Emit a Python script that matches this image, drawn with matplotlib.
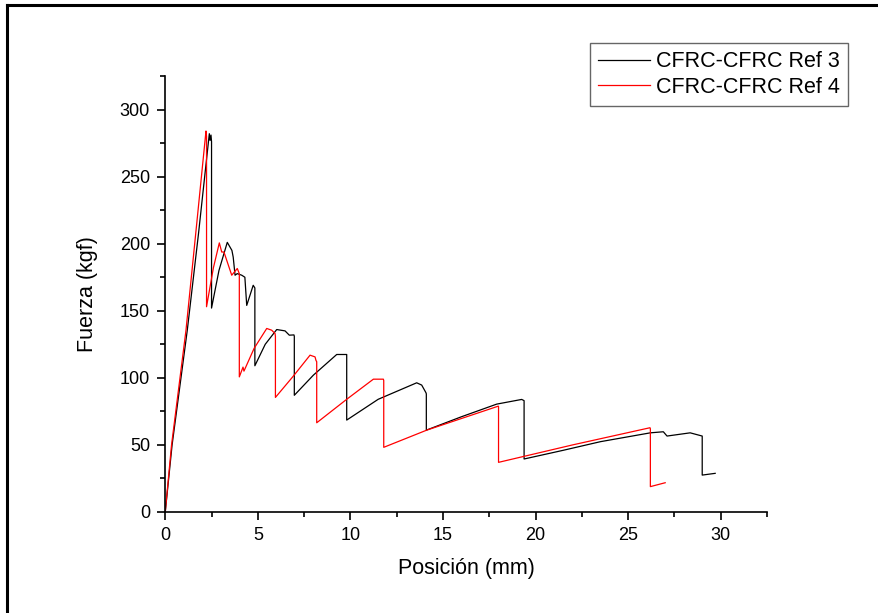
import matplotlib
matplotlib.use("Agg")
import matplotlib.pyplot as plt
from matplotlib.lines import Line2D

plt.rcParams['font.family'] = ['Liberation Sans', 'DejaVu Sans']

# Force-displacement curves (position in mm, force in kgf)
ref3_pos = [0.0, 0.37, 1.19, 1.8, 2.38, 2.42, 2.47, 2.5, 2.5, 2.9, 3.35, 3.6, 3.67, 3.77,
            3.89, 4.13, 4.3, 4.4, 4.75, 4.84, 4.84, 5.4, 6.02, 6.47, 6.7, 6.95, 6.97, 6.97,
            8.0, 9.26, 9.8, 9.8, 11.5, 13.58, 13.85, 14.08, 14.1, 14.1, 16.0, 17.9, 19.25,
            19.38, 19.38, 21.5, 23.5, 26.2, 26.9, 27.1, 28.35, 29.0, 29.0, 29.7]
ref3_force = [0, 50, 135.5, 208, 282, 277, 281, 276, 152, 180, 201, 195, 190, 176.5,
              177.7, 176.5, 175, 154, 169, 167, 109, 125, 136, 135, 131.8, 132, 131, 87,
              102, 117.4, 117.4, 68.5, 84, 96.3, 94.6, 88.9, 88, 61, 71, 80.4, 83.9,
              83, 39.5, 46, 52.4, 59, 59.8, 56.6, 59, 56.6, 27.5, 28.8]

ref4_pos = [0.0, 0.34, 1.12, 1.7, 2.2, 2.23, 2.23, 2.6, 2.92, 3.05, 3.17, 3.59, 3.89,
            4.0, 4.0, 4.2, 4.25, 4.8, 5.48, 5.75, 5.93, 5.95, 5.95, 6.9, 7.82, 8.09, 8.14,
            8.18, 8.18, 9.8, 11.24, 11.78, 11.8, 11.8, 14.12, 17.99, 18.0, 18.0, 22.0,
            26.18, 26.2, 26.2, 27.0]
ref4_force = [0, 50, 135.5, 215, 284, 280, 153, 182, 200.6, 193.8, 193.8, 176.5, 181.5,
              177.7, 100.7, 108, 105, 122, 136.8, 135.5, 133, 131, 85.4, 101, 116.9,
              115.6, 113, 112, 66.5, 84, 99, 99, 98, 48.2, 61, 78.9, 78.5, 37, 50,
              62.8, 62, 18.9, 21.8]

series_labels = ["CFRC-CFRC Ref 3", "CFRC-CFRC Ref 4"]
series_colors = ["black", "red"]

x_ticks = [0, 5, 10, 15, 20, 25, 30]
y_ticks = [0, 50, 100, 150, 200, 250, 300]

fig = plt.figure(figsize=(8.79, 6.13), dpi=100)
ax = fig.add_axes([0.188, 0.1648, 0.6846, 0.7112])

ax.plot(ref3_pos, ref3_force, color=series_colors[0], lw=0.9, label=series_labels[0])
ax.plot(ref4_pos, ref4_force, color=series_colors[1], lw=0.9, label=series_labels[1])

ax.set_xlim(0, 32.5)
ax.set_ylim(0, 325)
ax.set_xticks(x_ticks)
ax.set_yticks(y_ticks)
ax.set_xticks([2.5 + 5 * i for i in range(7)], minor=True)
ax.set_yticks([25 + 50 * i for i in range(7)], minor=True)
ax.tick_params(which='major', direction='out', length=6, width=1.2, labelsize=13, pad=5)
ax.tick_params(which='minor', direction='out', length=3.5, width=1.2)

for side in ('top', 'right'):
    ax.spines[side].set_visible(False)
for side in ('left', 'bottom'):
    ax.spines[side].set_linewidth(1.2)

ax.set_xlabel("Posición (mm)", fontsize=15.5, labelpad=10)
ax.set_ylabel("Fuerza (kgf)", fontsize=15.5, labelpad=16)

leg = ax.legend(loc='upper right', bbox_to_anchor=(1.135, 1.0757), fontsize=15.5,
                frameon=True, fancybox=False, edgecolor='#404040', handlelength=2.4,
                handletextpad=0.3, borderpad=0.38, labelspacing=0.22, borderaxespad=0)
leg.get_frame().set_linewidth(1.0)

# Frame lines along the top and left edges of the figure
fig.add_artist(Line2D([7 / 879, 7 / 879], [0, 1 - 5 / 613], color='black', lw=2.2,
                      transform=fig.transFigure))
fig.add_artist(Line2D([7 / 879, 1], [1 - 5 / 613, 1 - 5 / 613], color='black', lw=2.2,
                      transform=fig.transFigure))

fig.savefig("out.png", dpi=100)
